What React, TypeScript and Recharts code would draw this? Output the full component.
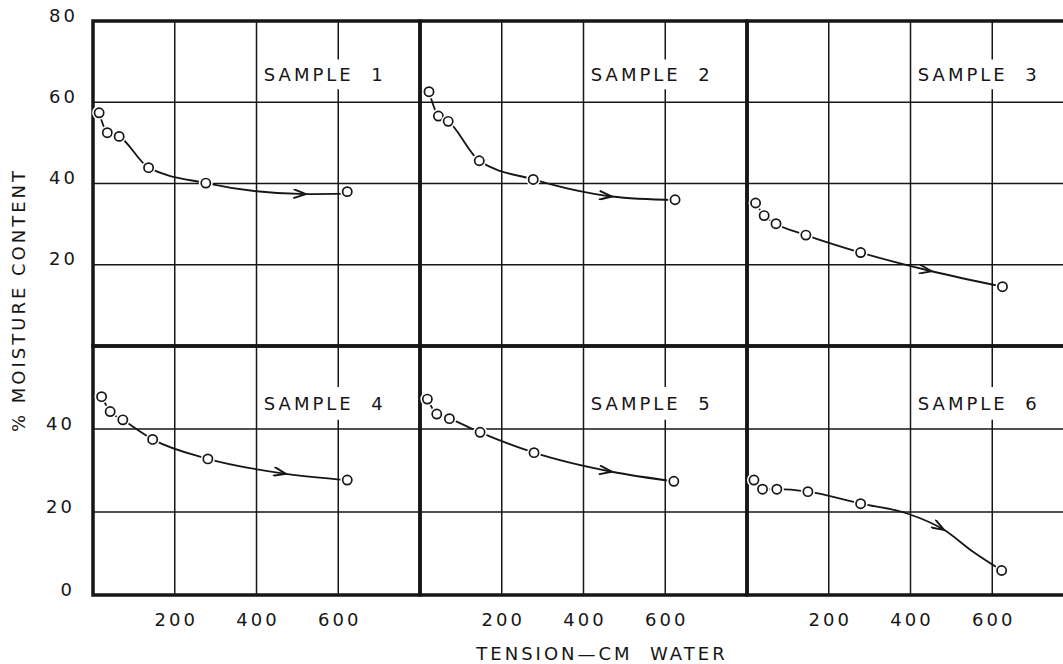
import React from 'react';
import {
  ComposedChart,
  Line,
  Scatter,
  XAxis,
  YAxis,
  CartesianGrid,
  ReferenceArea,
} from 'recharts';

// ---------- data ----------
const tensionTicks = [0, 200, 400, 600, 800];
const moistureTicksTop = [0, 20, 40, 60, 80];
const moistureTicksBottom = [0, 20, 40, 60];
const sampleNames = ['SAMPLE  1', 'SAMPLE  2', 'SAMPLE  3', 'SAMPLE  4', 'SAMPLE  5', 'SAMPLE  6'];

// measured points (open circles)
const tension1 = [15, 35, 64, 136, 276, 622];
const moisture1 = [57.4, 52.5, 51.6, 43.9, 40.1, 38.0];
const tension2 = [22, 45, 69, 145, 277, 624];
const moisture2 = [62.6, 56.6, 55.3, 45.6, 41.0, 36.0];
const tension3 = [21, 42, 71, 144, 278, 625];
const moisture3 = [35.2, 32.1, 30.1, 27.3, 23.0, 14.6];
const tension4 = [21, 42, 73, 146, 281, 622];
const moisture4 = [47.8, 44.2, 42.2, 37.5, 32.8, 27.7];
const tension5 = [18, 41, 72, 147, 279, 621];
const moisture5 = [47.2, 43.6, 42.5, 39.2, 34.3, 27.4];
const tension6 = [17, 38, 73, 149, 278, 623];
const moisture6 = [27.7, 25.5, 25.5, 24.9, 22.0, 5.9];

// drawn curves
const curveTension1 = [15, 35, 64, 136, 276, 521, 622];
const curveMoisture1 = [57.4, 52.5, 51.6, 43.9, 40.1, 37.4, 37.5];
const curveTension2 = [22, 45, 69, 145, 277, 469, 624];
const curveMoisture2 = [62.6, 56.6, 55.3, 45.6, 41.0, 36.8, 35.9];
const curveTension3 = [21, 42, 71, 144, 278, 452, 625];
const curveMoisture3 = [35.2, 32.1, 30.1, 27.3, 23.0, 18.4, 14.6];
const curveTension4 = [21, 42, 73, 146, 281, 472, 622];
const curveMoisture4 = [47.8, 44.2, 42.2, 37.5, 32.8, 29.2, 27.7];
const curveTension5 = [18, 41, 72, 147, 279, 469, 621];
const curveMoisture5 = [47.2, 43.6, 42.5, 39.2, 34.3, 29.7, 27.4];
const curveTension6 = [17, 38, 73, 149, 278, 390, 482, 553, 623];
const curveMoisture6 = [27.7, 25.5, 25.5, 24.9, 22.0, 19.7, 15.7, 10.4, 5.9];

// arrowheads on the curves (tail -> tip)
const arrowTension1 = [490, 521];
const arrowMoisture1 = [37.5, 37.4];
const arrowTension2 = [439, 469];
const arrowMoisture2 = [37.1, 36.8];
const arrowTension3 = [422, 452];
const arrowMoisture3 = [18.9, 18.4];
const arrowTension4 = [442, 472];
const arrowMoisture4 = [29.8, 29.2];
const arrowTension5 = [439, 469];
const arrowMoisture5 = [30.15, 29.7];
const arrowTension6 = [452, 482];
const arrowMoisture6 = [17.4, 15.7];

// label boxes (data coords)
const labelBoxTension = [418, 760];
const labelBoxMoistureTop = [63.2, 70.5];
const labelBoxMoistureBottom = [42.2, 50.1];

const yTitle = '% MOISTURE CONTENT';
const xTitle = 'TENSION\u2014CM  WATER';

// ---------- styling / layout ----------
const INK = '#161616';
const FONT = '"DejaVu Sans", "Liberation Sans", sans-serif';
const CHART_W = 1080;
const CHART_H = 664;
const PANEL_W = 327;
const COL_LEFT = [93, 420, 747];
const ROWS = [
  { top: 21, bottom: 346, yMax: 80, ticks: moistureTicksTop, hide: 0, box: labelBoxMoistureTop, tickMargin: 15 },
  { top: 346, bottom: 595, yMax: 60, ticks: moistureTicksBottom, hide: 60, box: labelBoxMoistureBottom, tickMargin: 18 },
];

const zip = (xs: number[], ys: number[]) => xs.map((x, i) => ({ x, y: ys[i] }));

const panels = [
  { name: sampleNames[0], pts: zip(tension1, moisture1), curve: zip(curveTension1, curveMoisture1), arrow: zip(arrowTension1, arrowMoisture1) },
  { name: sampleNames[1], pts: zip(tension2, moisture2), curve: zip(curveTension2, curveMoisture2), arrow: zip(arrowTension2, arrowMoisture2) },
  { name: sampleNames[2], pts: zip(tension3, moisture3), curve: zip(curveTension3, curveMoisture3), arrow: zip(arrowTension3, arrowMoisture3) },
  { name: sampleNames[3], pts: zip(tension4, moisture4), curve: zip(curveTension4, curveMoisture4), arrow: zip(arrowTension4, arrowMoisture4) },
  { name: sampleNames[4], pts: zip(tension5, moisture5), curve: zip(curveTension5, curveMoisture5), arrow: zip(arrowTension5, arrowMoisture5) },
  { name: sampleNames[5], pts: zip(tension6, moisture6), curve: zip(curveTension6, curveMoisture6), arrow: zip(arrowTension6, arrowMoisture6) },
];

const textStyle = {
  fontFamily: FONT,
  fontSize: 18,
  letterSpacing: 3,
  fill: INK,
};

const EmptyTick = () => <g />;

const makeYTick = (hideValue: number) => (props: any) => {
  const { x, y, payload } = props;
  if (payload.value === hideValue) return <g />;
  return (
    <text x={x} y={y - 6} textAnchor="end" dominantBaseline="central" {...textStyle}>
      {payload.value}
    </text>
  );
};

const XTick = (props: any) => {
  const { x, y, payload } = props;
  if (payload.value === 0 || payload.value === 800) return <g />;
  return (
    <text x={x + 1.5} y={y} textAnchor="middle" dominantBaseline="central" {...textStyle}>
      {payload.value}
    </text>
  );
};

const SampleLabel = (props: any) => {
  const { viewBox, value } = props;
  if (!viewBox) return null;
  return (
    <text
      x={viewBox.x}
      y={viewBox.y + viewBox.height / 2}
      dominantBaseline="central"
      style={{ whiteSpace: 'pre' }}
      {...textStyle}
    >
      {value}
    </text>
  );
};

const CircleDot = (props: any) => {
  const { cx, cy } = props;
  if (cx == null || cy == null) return <g />;
  return (
    <g>
      <circle cx={cx} cy={cy} r={7} fill="#fff" />
      <circle cx={cx} cy={cy} r={4.6} fill="#fff" stroke={INK} strokeWidth={1.7} />
    </g>
  );
};

function Panel({ index }: { index: number }) {
  const p = panels[index];
  const rowIdx = index < 3 ? 0 : 1;
  const colIdx = index % 3;
  const row = ROWS[rowIdx];
  const left = COL_LEFT[colIdx];
  // axes are 1px wide/high, so the margins give the plot area exactly the panel rectangle
  const margin = {
    top: row.top,
    bottom: CHART_H - row.bottom - 1,
    left: left - 1,
    right: CHART_W - (left + PANEL_W),
  };
  const showY = colIdx === 0;
  const showX = rowIdx === 1;
  return (
    <div style={{ position: 'absolute', left: 0, top: 0 }}>
      <ComposedChart width={CHART_W} height={CHART_H} margin={margin}>
        <XAxis
          type="number"
          dataKey="x"
          domain={[0, 800]}
          ticks={tensionTicks}
          interval={0}
          height={1}
          axisLine={false}
          tickLine={false}
          tickSize={0}
          tickMargin={24}
          tick={showX ? XTick : EmptyTick}
        />
        <YAxis
          type="number"
          dataKey="y"
          domain={[0, row.yMax]}
          ticks={row.ticks}
          interval={0}
          width={1}
          axisLine={false}
          tickLine={false}
          tickSize={0}
          tickMargin={row.tickMargin}
          tick={showY ? makeYTick(row.hide) : EmptyTick}
        />
        <CartesianGrid stroke={INK} strokeWidth={1.5} />
        <ReferenceArea
          x1={labelBoxTension[0]}
          x2={labelBoxTension[1]}
          y1={row.box[0]}
          y2={row.box[1]}
          fill="#fff"
          fillOpacity={1}
          stroke="none"
          label={{ value: p.name, content: SampleLabel }}
        />
        <ReferenceArea
          x1={0}
          x2={800}
          y1={0}
          y2={row.yMax}
          fill="none"
          stroke={INK}
          strokeWidth={3.5}
          ifOverflow="visible"
        />
        <Line
          data={p.curve}
          dataKey="y"
          type="monotone"
          stroke={INK}
          strokeWidth={1.8}
          dot={false}
          activeDot={false}
          isAnimationActive={false}
        />
        <Line
          data={p.arrow}
          dataKey="y"
          type="linear"
          stroke="none"
          markerEnd="url(#tensionArrow)"
          dot={false}
          activeDot={false}
          isAnimationActive={false}
        />
        <Scatter data={p.pts} dataKey="y" shape={CircleDot} isAnimationActive={false} />
      </ComposedChart>
    </div>
  );
}

export default function App() {
  return (
    <div
      style={{
        position: 'absolute',
        left: 0,
        top: 0,
        width: 1063,
        height: 664,
        overflow: 'hidden',
        background: '#fff',
      }}
    >
      <svg width={1063} height={664} style={{ position: 'absolute', left: 0, top: 0 }}>
        <defs>
          <marker
            id="tensionArrow"
            viewBox="0 0 14 10"
            refX="13"
            refY="5"
            markerWidth="14"
            markerHeight="10"
            markerUnits="userSpaceOnUse"
            orient="auto"
          >
            <path d="M0.5,0.5 L13,5 L0.5,9.5" fill="none" stroke={INK} strokeWidth={1.9} />
          </marker>
        </defs>
        <text
          x={18}
          y={300}
          transform="rotate(-90 18 300)"
          textAnchor="middle"
          dominantBaseline="central"
          {...textStyle}
        >
          {yTitle}
        </text>
        <text
          x={602}
          y={653}
          textAnchor="middle"
          dominantBaseline="central"
          style={{ whiteSpace: 'pre' }}
          {...textStyle}
        >
          {xTitle}
        </text>
      </svg>
      {panels.map((_, i) => (
        <Panel key={i} index={i} />
      ))}
    </div>
  );
}
